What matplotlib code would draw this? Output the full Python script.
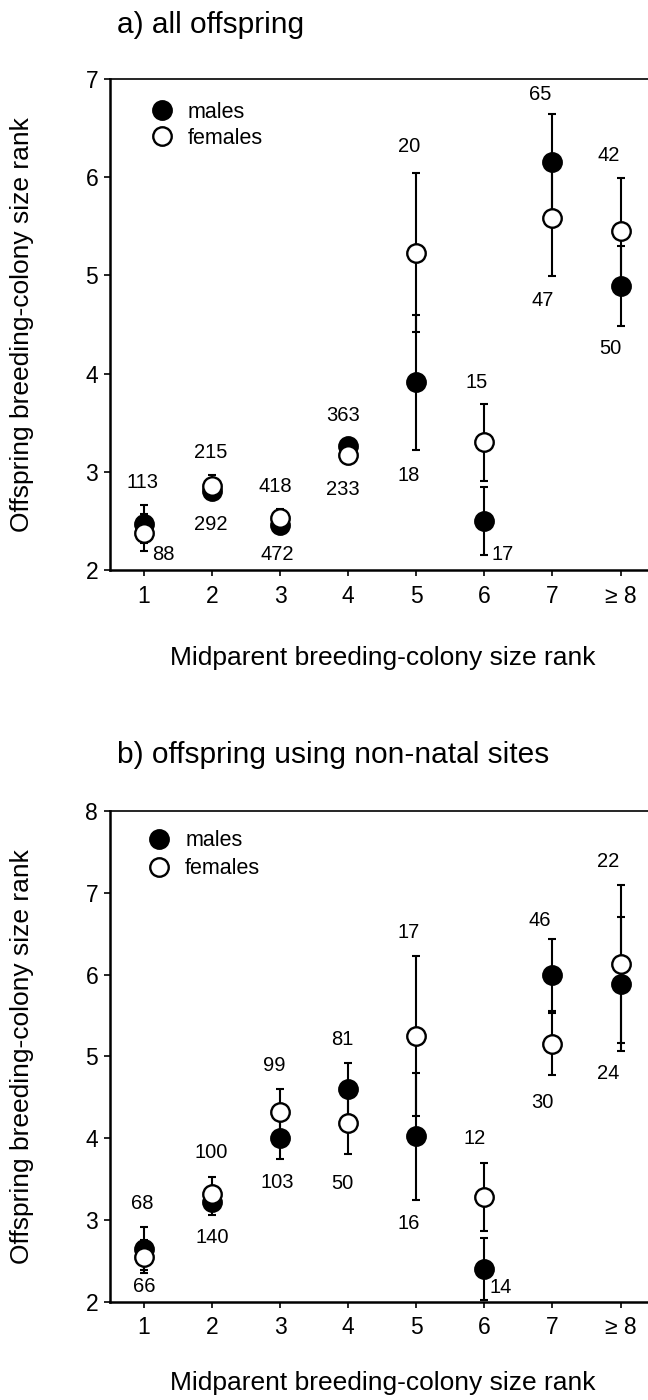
import matplotlib
matplotlib.use("Agg")
import matplotlib.pyplot as plt

plt.rcParams['font.family'] = ['Liberation Sans', 'DejaVu Sans']

# ---------------- data ----------------
ranks = [1, 2, 3, 4, 5, 6, 7, 8]
tick_labels = ['1', '2', '3', '4', '5', '6', '7', '\u2265 8']

# panel a: all offspring
a_male_mean = [2.47, 2.80, 2.46, 3.26, 3.91, 2.50, 6.15, 4.89]
a_male_err = [0.19, 0.07, 0.07, 0.06, 0.69, 0.35, 0.49, 0.41]
a_female_mean = [2.38, 2.86, 2.53, 3.17, 5.23, 3.30, 5.58, 5.45]
a_female_err = [0.19, 0.11, 0.09, 0.09, 0.81, 0.39, 0.59, 0.54]
a_n_labels = ['113', '88', '215', '292', '418', '472', '363', '233',
              '20', '18', '15', '17', '65', '47', '42', '50']

# panel b: offspring using non-natal sites
b_male_mean = [2.65, 3.22, 4.00, 4.60, 4.02, 2.40, 5.99, 5.885]
b_male_err = [0.26, 0.16, 0.25, 0.32, 0.78, 0.38, 0.44, 0.82]
b_female_mean = [2.55, 3.32, 4.32, 4.18, 5.25, 3.28, 5.15, 6.13]
b_female_err = [0.20, 0.21, 0.28, 0.38, 0.98, 0.41, 0.38, 0.97]
b_n_labels = ['68', '66', '100', '140', '99', '103', '81', '50',
              '17', '16', '12', '14', '46', '30', '22', '24']

# positions of the sample-size labels (data coordinates)
a_label_pos = [(0.98, 2.89), (1.29, 2.16), (1.98, 3.20), (1.98, 2.46),
               (2.93, 2.85), (2.95, 2.16), (3.92, 3.57), (3.92, 2.82),
               (4.89, 6.31), (4.89, 2.96), (5.88, 3.91), (6.27, 2.16),
               (6.82, 6.84), (6.86, 4.74), (7.82, 6.22), (7.85, 4.26)]
b_label_pos = [(0.97, 3.20), (1.00, 2.18), (1.98, 3.82), (2.00, 2.78),
               (2.92, 4.89), (2.96, 3.46), (3.91, 5.20), (3.92, 3.45),
               (4.88, 6.52), (4.89, 2.96), (5.85, 3.99), (6.24, 2.17),
               (6.81, 6.66), (6.85, 4.43), (7.82, 7.38), (7.82, 4.79)]

# ---------------- figure ----------------
W, H = 648, 1400
fig = plt.figure(figsize=(W / 100, H / 100), dpi=100)
fig.patch.set_facecolor('white')


def px_rect(left, top, right, bottom):
    return [left / W, 1 - bottom / H, (right - left) / W, (bottom - top) / H]


axa = fig.add_axes(px_rect(110, 79, 654.6, 570))
axb = fig.add_axes(px_rect(110, 811, 654.6, 1301.7))

MS = 13.3
MEW = 1.7


def draw_panel(ax, ymax, mm, me, fm, fe, labels, lpos, title, title_y,
               leg_anchor, leg_spacing, xlab_y):
    ax.errorbar(ranks, mm, yerr=me, fmt='none', ecolor='black',
                elinewidth=1.5, capsize=2.6, capthick=1.5, zorder=2)
    ax.errorbar(ranks, fm, yerr=fe, fmt='none', ecolor='black',
                elinewidth=1.5, capsize=2.6, capthick=1.5, zorder=2)
    hm, = ax.plot(ranks, mm, 'o', ms=MS, mfc='black', mec='black',
                  mew=MEW, zorder=3, label='males')
    hf, = ax.plot(ranks, fm, 'o', ms=MS, mfc='white', mec='black',
                  mew=MEW, zorder=4, label='females')
    for txt, (x, y) in zip(labels, lpos):
        ax.text(x, y, txt, ha='center', va='center', fontsize=14.5,
                color='black', zorder=5)

    ax.set_xlim(0.5, 8.5)
    ax.set_ylim(2, ymax)
    ax.set_xticks(ranks)
    ax.set_xticklabels(tick_labels)
    ax.set_yticks(range(2, ymax + 1))
    ax.tick_params(axis='both', direction='out', length=4.5, width=1.2,
                   labelsize=16.5, color='black')
    ax.tick_params(axis='x', pad=6)
    ax.tick_params(axis='y', pad=4)
    for s in ['left', 'bottom']:
        ax.spines[s].set_linewidth(1.8)
    ax.spines['top'].set_linewidth(1.2)
    ax.spines['right'].set_visible(False)

    ax.set_ylabel('Offspring breeding-colony size rank', fontsize=19,
                  va='center')
    ax.yaxis.set_label_coords(-0.1607, 0.5)
    ax.set_xlabel('Midparent breeding-colony size rank', fontsize=19,
                  va='baseline')
    ax.xaxis.set_label_coords(0.5, xlab_y)

    ax.set_title(title, loc='left', x=(117 - 110) / 544.6, y=title_y,
                 pad=0, fontsize=21.5)

    ax.legend(handles=[hm, hf], labels=['males', 'females'],
              loc='upper left', bbox_to_anchor=leg_anchor, frameon=False,
              borderpad=0, borderaxespad=0, handlelength=1.0,
              handletextpad=0.7, labelspacing=leg_spacing, fontsize=15.5)


draw_panel(axa, 7, a_male_mean, a_male_err, a_female_mean, a_female_err,
           a_n_labels, a_label_pos, 'a) all offspring', 1.0937,
           (0.0758, 0.954), 0.24, -(665 - 570) / 491)
draw_panel(axb, 8, b_male_mean, b_male_err, b_female_mean, b_female_err,
           b_n_labels, b_label_pos, 'b) offspring using non-natal sites',
           1.0978, (0.0709, 0.961), 0.33, -(1390 - 1301.7) / 490.7)

fig.savefig('out.png', dpi=100)
